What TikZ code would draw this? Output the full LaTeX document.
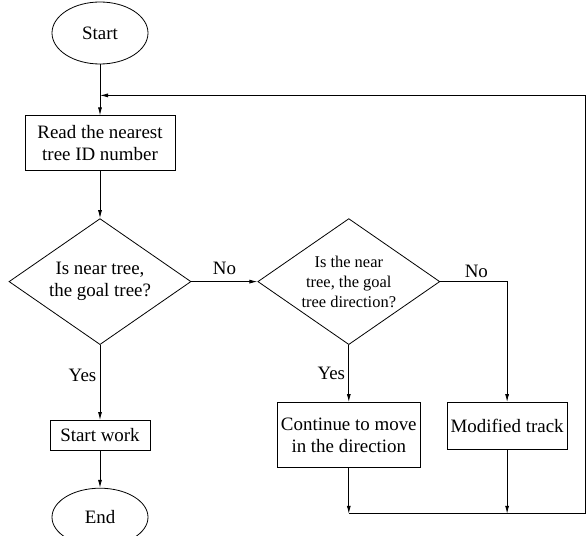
\documentclass[tikz,border=0pt]{standalone}
\usepackage{fontspec}
\setmainfont{Liberation Serif}
\usetikzlibrary{arrows.meta,positioning,shapes.geometric}

\begin{document}
\begin{tikzpicture}[x=1bp, y=-1bp, font=\fontsize{19}{22}\selectfont, >={Latex[length=8bp,width=4bp]}, line width=0.8bp,
term/.style={draw, ellipse, minimum width=96bp, minimum height=62bp, inner sep=0pt},
proc/.style={draw, align=center, inner sep=0pt},
decide/.style={draw, diamond, shape aspect=1.44, minimum width=182bp, minimum height=126bp, inner sep=0pt, align=center}]
\useasboundingbox (0,0) rectangle (586,536);
\node[term] (start) at (100,33) {Start};
\node[proc, below=51bp of start, minimum width=150bp, minimum height=55bp] (read) {Read the nearest\\tree ID number};
\node[decide, below=47bp of read] (goal) {Is near tree,\\the goal tree?};
\node[decide, right=66bp of goal, font=\fontsize{16.5}{20}\selectfont] (dir) {Is the near\\tree, the goal\\tree direction?};
\node[proc, below=75bp of goal, minimum width=100bp, minimum height=30bp] (work) {Start work};
\node[term, below=37bp of work, minimum height=58bp] (end) {End};
\node[proc, below=57bp of dir, minimum width=143bp, minimum height=65bp] (move) {Continue to move\\in the direction};
\node[proc, right=26bp of move.north east, anchor=north west, minimum width=120bp, minimum height=47bp] (track) {Modified track};
% loop back to the top
\coordinate[below=31bp of start] (loopin);
\coordinate[below=46bp of move] (merge);
\coordinate (edge) at (585.5,0);
\draw[->] (start) -- (read);
\draw[->] (read) -- (goal);
\draw[->] (goal) -- node[above=3bp]{No} (dir);
\draw[->] (goal) -- node[left, pos=0.4]{Yes} (work);
\draw[->] (work) -- (end);
\draw[->] (dir) -- node[left]{Yes} (move);
\draw[->] (dir.east) -| node[pos=0.27, above]{No} (track.north);
\draw[->] (move) -- (merge);
\draw[->] (track) -- (track |- merge);
\draw[->] (merge) -- (merge -| edge) -- (edge |- loopin) -- (loopin);
\end{tikzpicture}
\end{document}
